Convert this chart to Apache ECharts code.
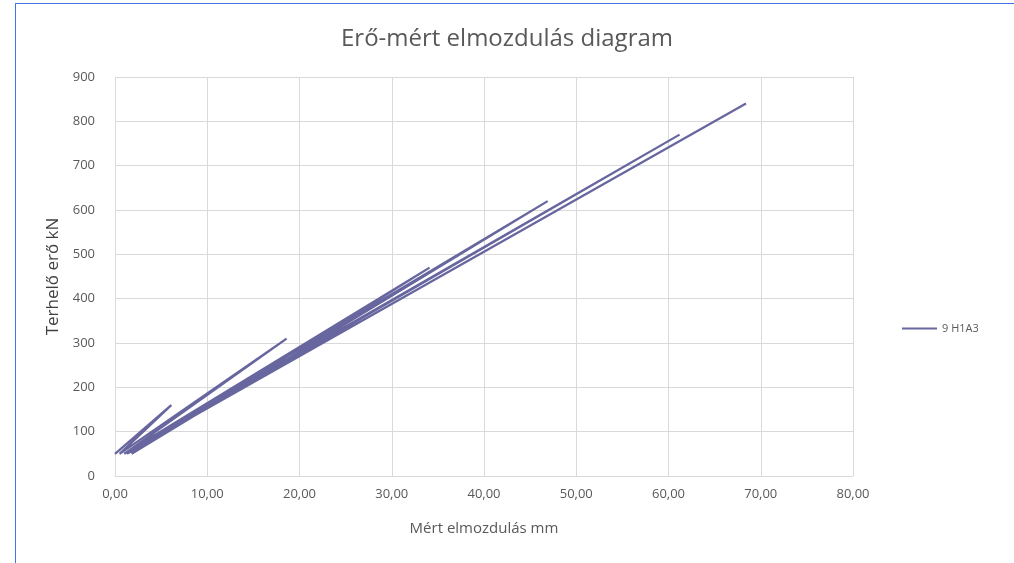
<!DOCTYPE html>
<html>
<head>
<meta charset="utf-8">
<script src="https://cdn.jsdelivr.net/npm/echarts@6/dist/echarts.min.js"></script>
<style>
  html, body { margin: 0; padding: 0; background: #fff; }
  #chart { width: 1014px; height: 563px; }
</style>
</head>
<body>
<div id="chart"></div>
<script>
// Cyclic load test: displacement (mm) against applied force (kN)
const seriesName = '9 H1A3';
const displacement = [0.0, 6.1, 0.5, 18.6, 1.0, 34.1, 1.8, 46.9, 1.0, 61.2, 1.3, 68.4];
const force        = [50, 160, 50, 310, 50, 470, 50, 620, 50, 770, 50, 840];
const xTicks = { min: 0, max: 80, interval: 10 };
const yTicks = { min: 0, max: 900, interval: 100 };

const FONT = '"Open Sans", "Noto Sans", sans-serif';
const TXT = '#595959';
const LINE = '#67669f';

const points = displacement.map((x, i) => [x, force[i]]);

const chart = echarts.init(document.getElementById('chart'));
chart.setOption({
  animation: false,
  backgroundColor: '#fff',
  title: {
    text: 'Erő-mért elmozdulás diagram',
    left: 'center',
    top: 22,
    textStyle: { fontFamily: FONT, fontSize: 24, fontWeight: 'normal', color: TXT }
  },
  legend: {
    data: [seriesName],
    orient: 'vertical',
    left: 897,
    top: 318,
    icon: 'rect',
    itemWidth: 35,
    itemHeight: 2,
    itemGap: 4,
    textStyle: { fontFamily: FONT, fontSize: 11, color: TXT }
  },
  grid: { left: 115, right: 161, top: 77, bottom: 87, containLabel: false },
  xAxis: {
    type: 'value',
    min: xTicks.min, max: xTicks.max, interval: xTicks.interval,
    name: 'Mért elmozdulás mm',
    nameLocation: 'middle',
    nameGap: 45,
    nameTextStyle: { fontFamily: FONT, fontSize: 15, color: TXT },
    axisLine: { show: true, lineStyle: { color: '#d9d9d9' } },
    axisTick: { show: false },
    axisLabel: {
      fontFamily: FONT, fontSize: 13, color: TXT, margin: 12,
      formatter: v => v.toFixed(2).replace('.', ',')
    },
    splitLine: { show: true, lineStyle: { color: '#d9d9d9', width: 1 } }
  },
  yAxis: {
    type: 'value',
    min: yTicks.min, max: yTicks.max, interval: yTicks.interval,
    name: 'Terhelő erő kN',
    nameLocation: 'middle',
    nameGap: 52,
    nameTextStyle: { fontFamily: FONT, fontSize: 17, color: '#404040' },
    axisLine: { show: false },
    axisTick: { show: false },
    axisLabel: { fontFamily: FONT, fontSize: 13, color: TXT, margin: 20 },
    splitLine: { show: true, lineStyle: { color: '#d9d9d9', width: 1 } }
  },
  series: [{
    name: seriesName,
    type: 'line',
    data: points,
    showSymbol: false,
    symbol: 'none',
    lineStyle: { color: LINE, width: 2.25 },
    itemStyle: { color: LINE }
  }],
  graphic: [
    { type: 'rect', shape: { x: 15, y: 3, width: 999, height: 1 }, style: { fill: '#3f74e6' } },
    { type: 'rect', shape: { x: 15, y: 3, width: 1, height: 560 }, style: { fill: '#3f74e6' } }
  ]
});
</script>
</body>
</html>
